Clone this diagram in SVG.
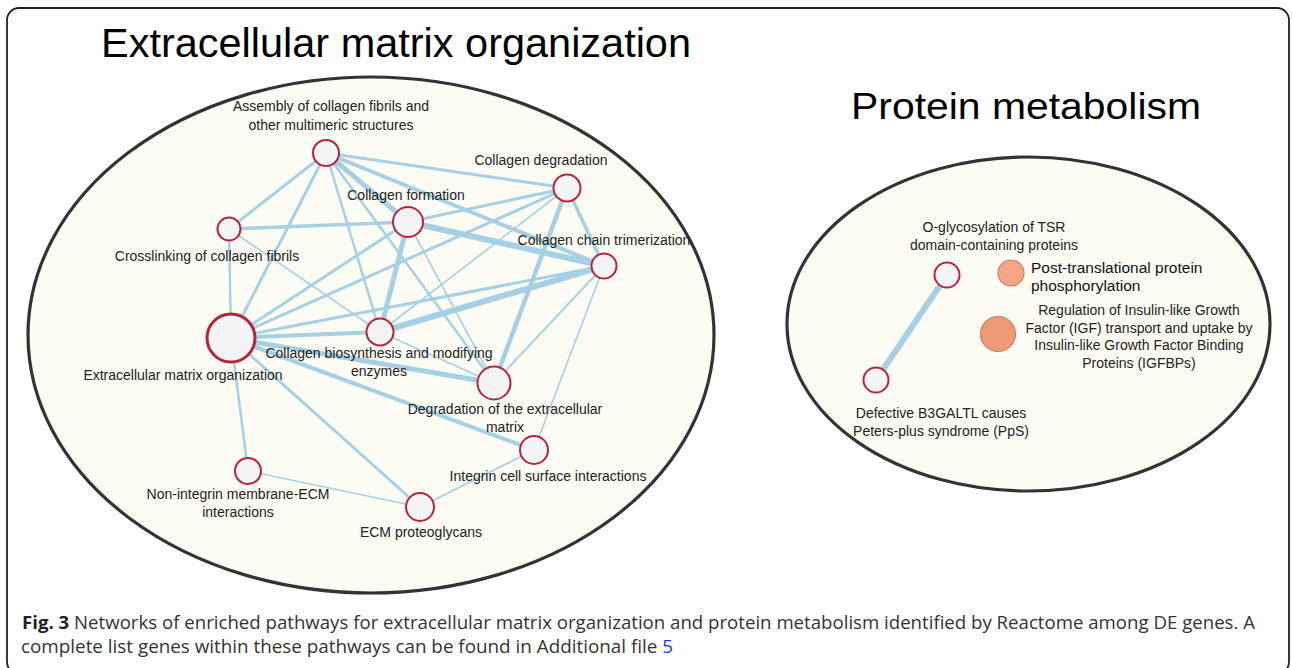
<svg xmlns="http://www.w3.org/2000/svg" width="1292" height="668" viewBox="0 0 1292 668">
<style>
.frame{fill:#ffffff;stroke:#222;stroke-width:1.8}
.cluster{fill:#fcfcf5;stroke:#333;stroke-width:3.2}
.title{font-family:"Liberation Sans",Arial,sans-serif;fill:#000}
.node{fill:#f4f4f7;stroke:#b8253a;stroke-width:2}
.big{stroke-width:3}
.hit{stroke:#c98066;stroke-width:1.2}
.lbl{font-family:"Liberation Sans",Arial,sans-serif;font-size:14px;fill:#222;text-anchor:middle}
.lbll{font-family:"Liberation Sans",Arial,sans-serif;font-size:15.5px;fill:#111}
.edges line{stroke:#a6d0e4;stroke-linecap:round}
.cap{font-family:"Open Sans","Liberation Sans",sans-serif;font-size:18.6px;fill:#333}
</style>
<rect class="frame" x="7" y="8" width="1282" height="666" rx="12"/>
<text class="title" x="101" y="57" font-size="40" textLength="590" lengthAdjust="spacingAndGlyphs">Extracellular matrix organization</text>
<text class="title" x="851" y="119" font-size="37.5" textLength="350" lengthAdjust="spacingAndGlyphs">Protein metabolism</text>
<ellipse class="cluster" cx="371" cy="335" rx="343" ry="258"/>
<ellipse class="cluster" cx="1028.5" cy="324" rx="241.5" ry="167"/>
<g id="connectors" class="edges">
<line x1="326" y1="153" x2="567" y2="188" stroke-width="3"/>
<line x1="326" y1="153" x2="229" y2="229" stroke-width="3"/>
<line x1="326" y1="153" x2="231" y2="338" stroke-width="3"/>
<line x1="326" y1="153" x2="380" y2="332" stroke-width="2.5"/>
<line x1="326" y1="153" x2="494" y2="383" stroke-width="2.5"/>
<line x1="326" y1="153" x2="408" y2="222" stroke-width="5"/>
<line x1="326" y1="153" x2="604" y2="266" stroke-width="4"/>
<line x1="567" y1="188" x2="408" y2="222" stroke-width="3"/>
<line x1="567" y1="188" x2="231" y2="338" stroke-width="3"/>
<line x1="567" y1="188" x2="380" y2="332" stroke-width="1.6"/>
<line x1="567" y1="188" x2="494" y2="383" stroke-width="4.5"/>
<line x1="567" y1="188" x2="604" y2="266" stroke-width="3.5"/>
<line x1="408" y1="222" x2="229" y2="229" stroke-width="3.5"/>
<line x1="408" y1="222" x2="231" y2="338" stroke-width="3"/>
<line x1="408" y1="222" x2="380" y2="332" stroke-width="5"/>
<line x1="408" y1="222" x2="494" y2="383" stroke-width="1.6"/>
<line x1="408" y1="222" x2="604" y2="266" stroke-width="6"/>
<line x1="229" y1="229" x2="231" y2="338" stroke-width="2.5"/>
<line x1="229" y1="229" x2="380" y2="332" stroke-width="1.6"/>
<line x1="604" y1="266" x2="231" y2="338" stroke-width="3"/>
<line x1="604" y1="266" x2="380" y2="332" stroke-width="6"/>
<line x1="604" y1="266" x2="494" y2="383" stroke-width="2"/>
<line x1="604" y1="266" x2="534" y2="450" stroke-width="1.6"/>
<line x1="231" y1="338" x2="380" y2="332" stroke-width="4"/>
<line x1="231" y1="338" x2="494" y2="383" stroke-width="5"/>
<line x1="231" y1="338" x2="534" y2="450" stroke-width="4"/>
<line x1="231" y1="338" x2="248" y2="471" stroke-width="2.5"/>
<line x1="231" y1="338" x2="420" y2="507" stroke-width="3"/>
<line x1="380" y1="332" x2="494" y2="383" stroke-width="1.6"/>
<line x1="534" y1="450" x2="420" y2="507" stroke-width="1.6"/>
<line x1="248" y1="471" x2="420" y2="507" stroke-width="1.6"/>
<line x1="947" y1="275" x2="876" y2="380" stroke-width="6"/>
</g>
<g id="n-assembly"><circle class="node" cx="326" cy="153" r="13"/><text class="lbl" x="331" y="111">Assembly of collagen fibrils and</text><text class="lbl" x="331" y="130">other multimeric structures</text></g>
<g id="n-coldeg"><circle class="node" cx="567" cy="188" r="13.5"/><text class="lbl" x="541" y="165">Collagen degradation</text></g>
<g id="n-colform"><circle class="node" cx="408" cy="222" r="15"/><text class="lbl" x="406" y="200">Collagen formation</text></g>
<g id="n-crosslink"><circle class="node" cx="229" cy="229" r="11.5"/><text class="lbl" x="207" y="261">Crosslinking of collagen fibrils</text></g>
<g id="n-trimer"><circle class="node" cx="604" cy="266" r="12.5"/><text class="lbl" x="604" y="245">Collagen chain trimerization</text></g>
<g id="n-ecm"><circle class="node big" cx="231" cy="338" r="24"/><text class="lbl" x="183" y="380">Extracellular matrix organization</text></g>
<g id="n-biosyn"><circle class="node" cx="380" cy="332" r="13.5"/><text class="lbl" x="379" y="358">Collagen biosynthesis and modifying</text><text class="lbl" x="379" y="376">enzymes</text></g>
<g id="n-degecm"><circle class="node" cx="494" cy="383" r="16.5"/><text class="lbl" x="505" y="414">Degradation of the extracellular</text><text class="lbl" x="505" y="432">matrix</text></g>
<g id="n-integrin"><circle class="node" cx="534" cy="450" r="14"/><text class="lbl" x="548" y="481">Integrin cell surface interactions</text></g>
<g id="n-nonint"><circle class="node" cx="248" cy="471" r="13"/><text class="lbl" x="238" y="499">Non-integrin membrane-ECM</text><text class="lbl" x="238" y="517">interactions</text></g>
<g id="n-proteo"><circle class="node" cx="420" cy="507" r="14"/><text class="lbl" x="421" y="537">ECM proteoglycans</text></g>
<g id="n-oglyc"><circle class="node" cx="947" cy="275" r="12.5"/><text class="lbl" x="994" y="232">O-glycosylation of TSR</text><text class="lbl" x="994" y="250">domain-containing proteins</text></g>
<g id="n-defect"><circle class="node" cx="876" cy="380" r="12.5"/><text class="lbl" x="941" y="418">Defective B3GALTL causes</text><text class="lbl" x="941" y="436">Peters-plus syndrome (PpS)</text></g>
<g id="n-ptp"><circle class="hit" cx="1011" cy="273" r="13" fill="#f2a686"/><text class="lbll" x="1031" y="273">Post-translational protein</text><text class="lbll" x="1031" y="291">phosphorylation</text></g>
<g id="n-igf"><circle class="hit" cx="998" cy="334" r="17.5" fill="#ee9a76"/><text class="lbl" x="1139" y="315">Regulation of Insulin-like Growth</text><text class="lbl" x="1139" y="333">Factor (IGF) transport and uptake by</text><text class="lbl" x="1139" y="350">Insulin-like Growth Factor Binding</text><text class="lbl" x="1139" y="368">Proteins (IGFBPs)</text></g>
<text class="cap" x="22" y="629" textLength="1233" lengthAdjust="spacingAndGlyphs"><tspan font-weight="bold" fill="#222">Fig. 3</tspan> Networks of enriched pathways for extracellular matrix organization and protein metabolism identified by Reactome among DE genes. A</text>
<text class="cap" x="21" y="653" textLength="652" lengthAdjust="spacingAndGlyphs">complete list genes within these pathways can be found in Additional file <tspan fill="#2b35d8">5</tspan></text>
</svg>
